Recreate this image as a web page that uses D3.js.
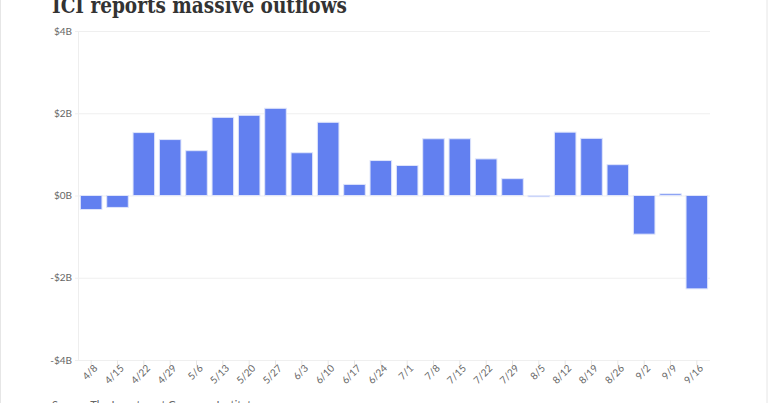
<!DOCTYPE html>
<html><head><meta charset="utf-8">
<script src="https://cdn.jsdelivr.net/npm/d3@7/dist/d3.min.js"></script>
<style>
html,body{margin:0;padding:0;background:#fff;}
svg{display:block;}
</style></head>
<body>
<svg id="chart" width="768" height="403"></svg>
<script>
const categories = ["4/8","4/15","4/22","4/29","5/6","5/13","5/20","5/27","6/3","6/10","6/17","6/24","7/1","7/8","7/15","7/22","7/29","8/5","8/12","8/19","8/26","9/2","9/9","9/16"];
const flows = [-0.34,-0.29,1.53,1.36,1.09,1.90,1.95,2.12,1.04,1.78,0.27,0.85,0.73,1.38,1.38,0.89,0.41,-0.03,1.54,1.39,0.75,-0.94,0.04,-2.27];
const yTicks = [4,2,0,-2,-4];
const yTickLabels = ["$4B","$2B","$0B","-$2B","-$4B"];
const title = "ICI reports massive outflows";
const source = "Source: The Investment Company Institute";

const svg = d3.select("#chart");
const W = 768, H = 403;
const m = {left:78, right:58, top:31, bottom:43};

// page border
svg.append("rect").attr("x",0.5).attr("y",-2).attr("width",W-1.5).attr("height",H+4)
  .attr("fill","none").attr("stroke","#e6e6e6");

const x = d3.scaleBand().domain(categories).range([m.left, W-m.right]).paddingInner(0.18).paddingOuter(0.09);
const y = d3.scaleLinear().domain([-4,4]).range([H-m.bottom, m.top]);

// grid
const gy = svg.append("g").attr("transform",`translate(${m.left},0)`)
  .call(d3.axisLeft(y).tickValues(yTicks).tickSize(-(W-m.right-m.left)).tickPadding(6)
    .tickFormat((d,i)=>yTickLabels[i]));
gy.select(".domain").attr("stroke","#eeeeee");
gy.selectAll(".tick line").attr("stroke","#efefef").attr("x1",-3);
gy.selectAll(".tick text").attr("fill","#666").attr("font-family","Lato, 'Open Sans', sans-serif").attr("font-size",10);

// bars
svg.append("g").selectAll("rect").data(flows).join("rect")
  .attr("x",(d,i)=>x(categories[i]))
  .attr("width",x.bandwidth())
  .attr("y",d=>y(Math.max(0,d)))
  .attr("height",d=>Math.abs(y(d)-y(0)))
  .attr("fill","#6280f0")
  .attr("stroke","#dfe5fb").attr("stroke-width",1);

// x axis
const gx = svg.append("g").attr("transform",`translate(0,${y(-4)})`)
  .call(d3.axisBottom(x).tickSize(5).tickSizeOuter(0));
gx.select(".domain").remove();
gx.selectAll(".tick line").attr("stroke","#e6e6e6");
gx.selectAll(".tick text")
  .attr("fill","#666").attr("font-family","Lato, 'Open Sans', sans-serif").attr("font-size",10)
  .attr("text-anchor","end").attr("dy",null).attr("y",null)
  .attr("transform","translate(7,9) rotate(-45)");

// title
svg.append("text").attr("x",52).attr("y",13)
  .attr("font-family","'DejaVu Serif', 'Liberation Serif', serif").attr("font-weight","bold")
  .attr("font-size",22).attr("fill","#333")
  .attr("textLength",295).attr("lengthAdjust","spacingAndGlyphs")
  .text(title);

// source
svg.append("text").attr("x",52).attr("y",409)
  .attr("font-family","Lato, sans-serif").attr("font-size",11).attr("fill","#666")
  .text(source);
</script>
</body></html>
